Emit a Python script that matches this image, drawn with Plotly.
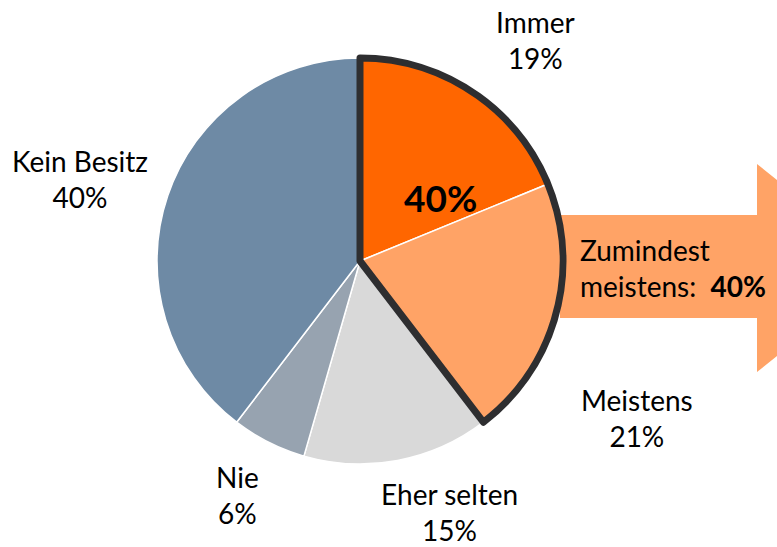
import plotly.graph_objects as go

W, H = 777, 547

# Anteile in Prozent
kategorien = ["Immer", "Meistens", "Eher selten", "Nie", "Kein Besitz"]
anteile = [19, 21, 15, 6, 40]
farben = ["#FF6600", "#FFA366", "#D9D9D9", "#97A3B0", "#6E8AA5"]

zumindest_meistens = anteile[0] + anteile[1]

# Position der Beschriftungen (Pixel im Bild)
label_pos = {
    "Immer": (535, 40),
    "Meistens": (637, 418),
    "Eher selten": (450, 512),
    "Nie": (237, 495),
    "Kein Besitz": (80, 179),
}

FONT = "Lato"
cx, cy, r = 360, 261, 203


def px(x):
    return x / W


def py(y):
    return 1 - y / H


domain = dict(x=[px(cx - r), px(cx + r)], y=[py(cy + r), py(cy - r)])

fig = go.Figure()

# eigentlicher Kuchen
fig.add_trace(
    go.Pie(
        labels=kategorien,
        values=anteile,
        sort=False,
        direction="clockwise",
        rotation=0,
        marker=dict(colors=farben, line=dict(color="white", width=1.5)),
        textinfo="none",
        hoverinfo="label+percent",
        domain=domain,
        showlegend=False,
    )
)

# Umrandung für "zumindest meistens"
fig.add_trace(
    go.Pie(
        labels=["Zumindest meistens", "Rest"],
        values=[zumindest_meistens, sum(anteile) - zumindest_meistens],
        sort=False,
        direction="clockwise",
        rotation=0,
        marker=dict(
            colors=["rgba(0,0,0,0)", "rgba(0,0,0,0)"],
            line=dict(color=["#2E2E30", "rgba(0,0,0,0)"], width=[7, 0]),
        ),
        textinfo="none",
        hoverinfo="skip",
        domain=domain,
        showlegend=False,
    )
)

# Pfeil hinter dem Kuchen
pfeil = (
    f"M {px(560)},{py(215)} L {px(757)},{py(215)} L {px(757)},{py(164)} "
    f"L {px(887)},{py(268)} L {px(757)},{py(372)} L {px(757)},{py(318)} "
    f"L {px(560)},{py(318)} Z"
)
fig.add_shape(
    type="path",
    path=pfeil,
    xref="paper",
    yref="paper",
    fillcolor="#FFA366",
    line=dict(width=0),
    layer="below",
)

annotations = []
for name, wert in zip(kategorien, anteile):
    x, y = label_pos[name]
    annotations.append(
        dict(
            x=px(x),
            y=py(y),
            xref="paper",
            yref="paper",
            text=f"{name}<br>{wert}%",
            showarrow=False,
            xanchor="center",
            yanchor="middle",
            font=dict(family=FONT, size=28, color="black"),
        )
    )

annotations.append(
    dict(
        x=px(440),
        y=py(198),
        xref="paper",
        yref="paper",
        text=f"<b>{zumindest_meistens}%</b>",
        showarrow=False,
        font=dict(family=FONT, size=37, color="black"),
    )
)
annotations.append(
    dict(
        x=px(578),
        y=py(268),
        xref="paper",
        yref="paper",
        text=f"Zumindest<br>meistens:  <b>{zumindest_meistens}%</b>",
        showarrow=False,
        align="left",
        xanchor="left",
        yanchor="middle",
        font=dict(family=FONT, size=28, color="black"),
    )
)

fig.update_layout(
    width=W,
    height=H,
    margin=dict(l=0, r=0, t=0, b=0),
    paper_bgcolor="white",
    plot_bgcolor="white",
    annotations=annotations,
)

# Seitenrand des Browsers entfernen, keine Werkzeugleiste
fig.write_html(
    "out.html",
    config={"displayModeBar": False},
    post_script="document.body.style.margin='0';",
)
